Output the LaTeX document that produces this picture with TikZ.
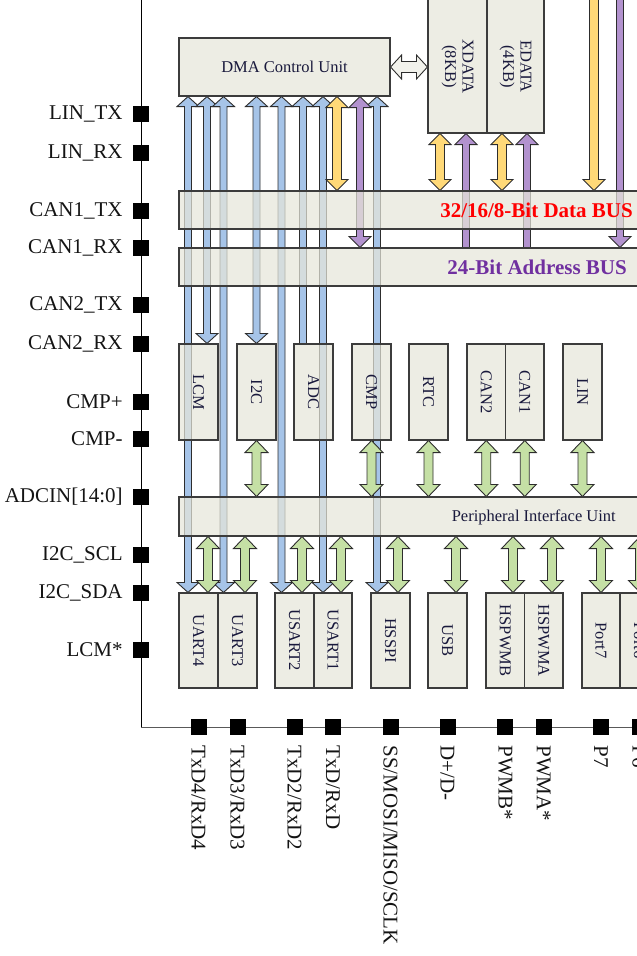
\documentclass[tikz,border=0pt]{standalone}
\usepackage{fontspec}
\setmainfont{Liberation Serif}
\usetikzlibrary{calc}
\pgfdeclarelayer{bg}
\pgfsetlayers{bg,main}
\definecolor{boxfill}{RGB}{230,230,217}
\definecolor{boxline}{RGB}{60,60,60}
\definecolor{arrline}{RGB}{45,45,45}
\definecolor{bluef}{RGB}{166,196,232}
\definecolor{greenf}{RGB}{197,224,165}
\definecolor{yellowf}{RGB}{255,217,120}
\definecolor{purplef}{RGB}{178,146,206}
\definecolor{busred}{RGB}{255,0,0}
\definecolor{buspurple}{RGB}{112,48,160}
\definecolor{navytext}{RGB}{25,25,60}
\definecolor{pintext}{RGB}{20,20,20}
\definecolor{whitef}{RGB}{242,242,236}
\tikzset{
  ashaft/.store in=\ashw, ahead/.store in=\ahdw, alen/.store in=\ahdl,
  ashaft=3.5pt, ahead=11pt, alen=10pt,
  dblA/.style={to path={
    (\tikztostart) coordinate (tS) (\tikztotarget) coordinate (tE)
    ($(tS)!\ahdl!(tE)$) coordinate (tA)
    ($(tE)!\ahdl!(tS)$) coordinate (tB)
    (tS) -- ($(tA)!\ahdw!90:(tE)$) -- ($(tA)!\ashw!90:(tE)$)
    -- ($(tB)!\ashw!-90:(tS)$) -- ($(tB)!\ahdw!-90:(tS)$) -- (tE)
    -- ($(tB)!\ahdw!90:(tS)$) -- ($(tB)!\ashw!90:(tS)$)
    -- ($(tA)!\ashw!-90:(tE)$) -- ($(tA)!\ahdw!-90:(tE)$) -- cycle
  }},
  sngA/.style={to path={
    (\tikztostart) coordinate (tS) (\tikztotarget) coordinate (tE)
    ($(tE)!\ahdl!(tS)$) coordinate (tB)
    ($(tS)!\ashw!90:(tE)$) -- ($(tB)!\ashw!-90:(tS)$) -- ($(tB)!\ahdw!-90:(tS)$)
    -- (tE) -- ($(tB)!\ahdw!90:(tS)$) -- ($(tB)!\ashw!90:(tS)$)
    -- ($(tS)!\ashw!-90:(tE)$) -- cycle
  }},
  arrbase/.style={draw=arrline, line width=0.9pt, line join=miter},
  blueA/.style={arrbase, fill=bluef, ashaft=3.5pt, ahead=11pt, alen=10pt},
  greenA/.style={arrbase, fill=greenf, ashaft=4.5pt, ahead=11.5pt, alen=12pt},
  yellowA/.style={arrbase, fill=yellowf, ashaft=4.5pt, ahead=11pt, alen=11pt},
  purpleA/.style={arrbase, fill=purplef, ashaft=3.5pt, ahead=11pt, alen=11pt},
  whiteA/.style={arrbase, fill=whitef, ashaft=5.5pt, ahead=12pt, alen=11pt},
  box/.style={rectangle, draw=boxline, fill=boxfill, fill opacity=0.72, line width=1.1pt, inner sep=0pt},
  vtext/.style={rotate=-90, text=navytext, font=\fontsize{16.5}{17.5}\selectfont, inner sep=0pt, align=center},
  htext/.style={text=navytext, font=\fontsize{16.5}{17.5}\selectfont, inner sep=0pt},
  pinsq/.style={rectangle, fill=black, minimum size=16pt, inner sep=0pt},
  pinlbl/.style={text=pintext, font=\fontsize{21}{22}\selectfont, inner sep=0pt},
  bustext/.style={font=\fontsize{21}{22}\selectfont\bfseries, inner sep=0pt, anchor=east}
}
\begin{document}
\begin{tikzpicture}[x=1pt, y=-1pt]
\useasboundingbox (0,0) rectangle (637,956);
% chip outline
\draw[black, line width=1pt] (141,-2) -- (141,727);
\draw[black!65, line width=1pt] (141,727) -- (645,727);

% ---- boxes ----
\node[box, minimum width=211pt, minimum height=58pt] (dma) at (284.5,67) {};
\node[htext] (dmat) at (dma.center) {DMA Control Unit};
\node[box, minimum width=59pt, minimum height=143pt] (xdata) at (457.5,61.5) {};
\node[vtext] (xdatat) at ([yshift=-5pt]xdata.center) {XDATA\\(8KB)};
\node[box, minimum width=57pt, minimum height=143pt] (edata) at (515.5,61.5) {};
\node[vtext] (edatat) at ([yshift=-5pt]edata.center) {EDATA\\(4KB)};

\node[box, minimum width=481pt, minimum height=38pt] (databus) at (419.5,210) {};
\node[bustext, text=busred] (databust) at (633,210) {32/16/8-Bit Data BUS};
\node[box, minimum width=481pt, minimum height=38pt] (addrbus) at (419.5,267) {};
\node[bustext, text=buspurple] (addrbust) at (627,267) {24-Bit Address BUS};

\node[box, minimum width=39pt, minimum height=96pt] (lcm) at (198.5,392) {};
\node[vtext] (lcmt) at (lcm.center) {LCM};
\node[box, minimum width=39pt, minimum height=96pt] (i2c) at (256.5,392) {};
\node[vtext] (i2ct) at (i2c.center) {I2C};
\node[box, minimum width=39pt, minimum height=96pt] (adc) at (313.5,392) {};
\node[vtext] (adct) at (adc.center) {ADC};
\node[box, minimum width=39pt, minimum height=96pt] (cmp) at (371.5,392) {};
\node[vtext] (cmpt) at (cmp.center) {CMP};
\node[box, minimum width=39pt, minimum height=96pt] (rtc) at (428.5,392) {};
\node[vtext] (rtct) at (rtc.center) {RTC};
\node[box, minimum width=38.5pt, minimum height=96pt] (can2) at (486.25,392) {};
\node[vtext] (can2t) at (can2.center) {CAN2};
\node[box, minimum width=38.5pt, minimum height=96pt] (can1) at (524.75,392) {};
\node[vtext] (can1t) at (can1.center) {CAN1};
\node[box, minimum width=39pt, minimum height=96pt] (lin) at (582.5,392) {};
\node[vtext] (lint) at (lin.center) {LIN};

\node[box, minimum width=481pt, minimum height=39pt] (piu) at (419.5,516.5) {};
\node[htext, anchor=east] (piut) at (616,517) {Peripheral Interface Uint};

\node[box, minimum width=39pt, minimum height=95pt] (uart4) at (198.5,640.5) {};
\node[vtext] (uart4t) at (uart4.center) {UART4};
\node[box, minimum width=39pt, minimum height=95pt] (uart3) at (237.5,640.5) {};
\node[vtext] (uart3t) at (uart3.center) {UART3};
\node[box, minimum width=39pt, minimum height=95pt] (usart2) at (294.5,640.5) {};
\node[vtext] (usart2t) at (usart2.center) {USART2};
\node[box, minimum width=38pt, minimum height=95pt] (usart1) at (333,640.5) {};
\node[vtext] (usart1t) at (usart1.center) {USART1};
\node[box, minimum width=39pt, minimum height=95pt] (hsspi) at (390.5,640.5) {};
\node[vtext] (hsspit) at (hsspi.center) {HSSPI};
\node[box, minimum width=39pt, minimum height=95pt] (usb) at (447.5,640.5) {};
\node[vtext] (usbt) at (usb.center) {USB};
\node[box, minimum width=38.5pt, minimum height=95pt] (hspwmb) at (505.25,640.5) {};
\node[vtext] (hspwmbt) at (hspwmb.center) {HSPWMB};
\node[box, minimum width=38.5pt, minimum height=95pt] (hspwma) at (543.75,640.5) {};
\node[vtext] (hspwmat) at (hspwma.center) {HSPWMA};
\node[box, minimum width=38pt, minimum height=95pt] (port7) at (601,640.5) {};
\node[vtext] (port7t) at (port7.center) {Port7};
\node[box, minimum width=39pt, minimum height=95pt] (port6) at (639.5,640.5) {};
\node[vtext] (port6t) at (port6.center) {Port6};

% ---- left pins ----
\foreach \nm/\yy/\txt in {pa/114/LIN\_TX, pb/153/LIN\_RX, pc/211/CAN1\_TX, pd/248/CAN1\_RX,
  pe/305/CAN2\_TX, pf/344/CAN2\_RX, pg/402/CMP+, ph/439/CMP-, pi/497/ADCIN[14:0],
  pj/555/I2C\_SCL, pk/593/I2C\_SDA, pl/650/LCM*}{
  \node[pinsq] (\nm) at (141,\yy) {};
  \node[pinlbl, anchor=east] (\nm t) at ([xshift=-10pt]\nm.west) {\txt};
}
% ---- bottom pins ----
\foreach \nm/\bx/\txt in {qa/uart4/{TxD4/RxD4}, qb/uart3/{TxD3/RxD3}, qc/usart2/{TxD2/RxD2},
  qd/usart1/{TxD/RxD}, qe/hsspi/{SS/MOSI/MISO/SCLK}, qf/usb/{D+/D-}, qg/hspwmb/{PWMB*},
  qh/hspwma/{PWMA*}, qi/port7/{P7}, qj/port6/{P6}}{
  \node[pinsq] (\nm) at (\bx |- 0,727) {};
  \node[pinlbl, rotate=-90, anchor=west] (\nm t) at ([yshift=-10pt]\nm.south) {\txt};
}

\begin{pgfonlayer}{bg}
% top free ends
\coordinate (ytop) at (594,-8);
\coordinate (ptop) at (620,-8);
% blue DMA arrows
\draw[blueA, dblA] (188,0 |- dma.south) to (188,0 |- uart4.north);
\draw[blueA, dblA] (207,0 |- dma.south) to (207,0 |- lcm.north);
\draw[blueA, dblA] (223.5,0 |- dma.south) to (223.5,0 |- uart3.north);
\draw[blueA, dblA] (256.5,0 |- dma.south) to (256.5,0 |- i2c.north);
\draw[blueA, dblA] (281.5,0 |- dma.south) to (281.5,0 |- usart2.north);
\draw[blueA, sngA] (303,0 |- adc.north) to (303,0 |- dma.south);
\draw[blueA, dblA] (323,0 |- dma.south) to (323,0 |- usart1.north);
\draw[blueA, dblA] (377,0 |- dma.south) to (377,0 |- hsspi.north);
% yellow data arrows
\draw[yellowA, dblA] (337,0 |- dma.south) to (337,0 |- databus.north);
\draw[yellowA, dblA] (440,0 |- xdata.south) to (440,0 |- databus.north);
\draw[yellowA, dblA] (502,0 |- edata.south) to (502,0 |- databus.north);
\draw[yellowA, sngA] (ytop) to (ytop |- databus.north);
% purple address arrows
\draw[purpleA, dblA] (360,0 |- dma.south) to (360,0 |- addrbus.north);
\draw[purpleA, sngA] (466,0 |- addrbus.north) to (466,0 |- xdata.south);
\draw[purpleA, sngA] (527,0 |- addrbus.north) to (527,0 |- edata.south);
\draw[purpleA, sngA] (ptop) to (ptop |- addrbus.north);
% DMA <-> XDATA
\draw[whiteA, dblA] (dma.east) to (dma.east -| xdata.west);
% green peripheral arrows (upper)
\foreach \bx in {i2c, cmp, rtc, can2, can1, lin}{
  \draw[greenA, dblA] (\bx.south) to (\bx.south |- piu.north);
}
% green peripheral arrows (lower)
\foreach \bx/\xx in {uart4/208, uart3/245, usart2/302, usart1/341, hsspi/398,
  usb/456, hspwmb/513, hspwma/552, port7/601, port6/640}{
  \draw[greenA, dblA] (\xx,0 |- piu.south) to (\xx,0 |- \bx.north);
}
\end{pgfonlayer}
\end{tikzpicture}
\end{document}
